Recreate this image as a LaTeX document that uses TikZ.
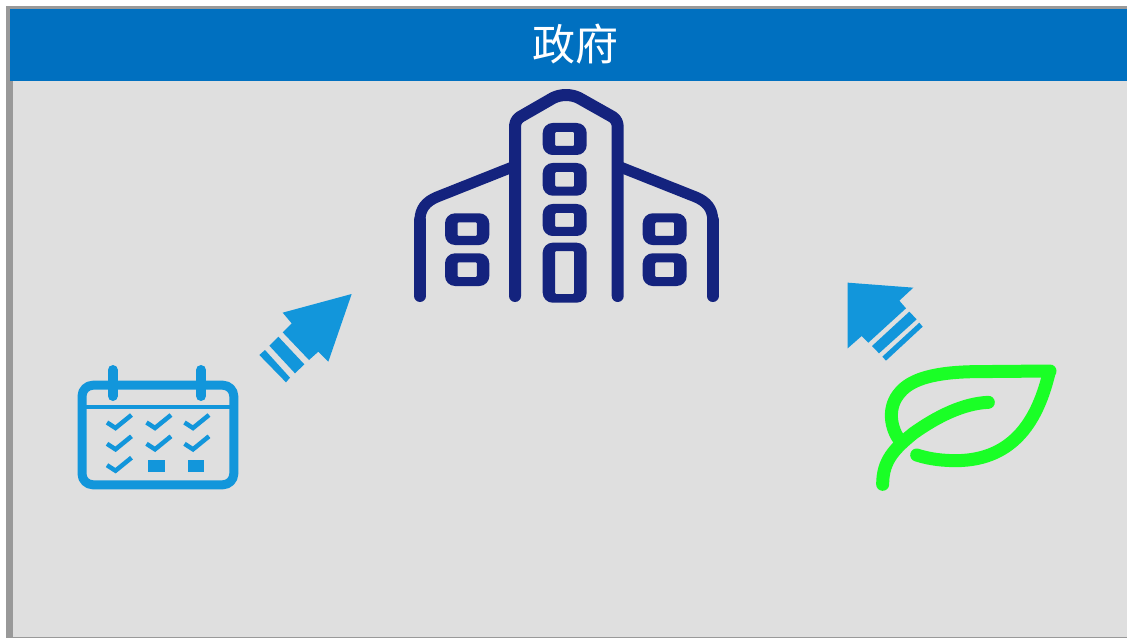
\documentclass[tikz,border=0pt]{standalone}
\usepackage{fontspec}
\newfontfamily\cjk{Noto Sans CJK SC}
\definecolor{framegray}{HTML}{999999}
\definecolor{panelgray}{HTML}{DFDFDF}
\definecolor{headblue}{HTML}{0070C0}
\definecolor{navy}{HTML}{14237E}
\definecolor{iconblue}{HTML}{1296DB}
\definecolor{leafgreen}{HTML}{1AFF26}
\newcommand{\bldwin}[4]{% outer x0,y0,x1,y1; hole inset 12.5 / 9
  \fill[navy,even odd rule]
    [rounded corners=10pt] (#1,#2) rectangle (#3,#4)
    [rounded corners=1pt] ({#1+12.5},{#2+9}) rectangle ({#3-12.5},{#4-9});}
\tikzset{
  bld/.style={draw=navy,line width=12pt,line cap=round,line join=round},
  cal/.style={draw=iconblue,line cap=round,line join=round},
  chk/.style={cal,line width=4.5pt,line cap=butt,line join=miter},
  leaf/.style={draw=leafgreen,line width=13pt,line cap=round,line join=round},
  zoomA/.style={shift={(60,280)},x=0.33333pt,y=-0.33333pt},
  zoomB/.style={shift={(830,270)},x=0.33333pt,y=-0.33333pt}
}
\begin{document}
\begin{tikzpicture}[x=1pt,y=-1pt]
\useasboundingbox (0,0) rectangle (1127,639);
\fill[white] (0,0) rectangle (1127,639);
\fill[framegray] (6,6) rectangle (1127,638);
\fill[panelgray] (13,9) rectangle (1127,637);
\fill[headblue] (10,9) rectangle (1127,81);
\node[text=white,font=\cjk\fontsize{43}{47}\selectfont,inner sep=0pt] (title) at (575,44.5) {政府};

% building
\draw[bld] (515,296) -- (515,128) .. controls (515,123) and (516,120) .. (520,117)
  -- (553,98) .. controls (561,94) and (571,94) .. (579,98)
  -- (612.7,117) .. controls (616.7,120) and (617.7,123) .. (617.7,128) -- (617.7,296);
\draw[bld,line width=11pt,line cap=butt] (515,166) -- (437,197) .. controls (426,201.5) and (420,209) .. (420,220);
\draw[bld] (420,220) -- (420,296);
\draw[bld,line width=11pt,line cap=butt] (617.7,166) -- (695.7,197) .. controls (706.7,201.5) and (712.7,209) .. (712.7,220);
\draw[bld] (712.7,220) -- (712.7,296);
\bldwin{542.7}{123}{586.7}{155}
\bldwin{542.7}{163}{586.7}{195.7}
\bldwin{542.7}{204}{586.7}{236}
\fill[navy,even odd rule] [rounded corners=10pt] (542.7,242.7) rectangle (586.7,302.7)
  [rounded corners=1pt] (555.2,251) rectangle (574.2,294);
\bldwin{445}{213.3}{489.3}{245}
\bldwin{445}{253.3}{489.3}{286}
\bldwin{642.7}{213.3}{686.7}{245}
\bldwin{642.7}{253.3}{686.7}{286}

% calendar
\draw[cal,line width=9pt,rounded corners=11pt] (82,385.2) rectangle (233.8,484.8);
\draw[cal,line width=4pt,line cap=butt] (82,407) -- (234,407);
\draw[cal,line width=10pt] (112.7,370) -- (112.7,396);
\draw[cal,line width=10pt] (201,370) -- (201,396);
\foreach \dx/\dy in {0/0,39.5/0,77.5/0,0/21.3,39.5/21.3,77.5/21.3,0/42.7}
  \draw[chk] (107+\dx,422.5+\dy) -- (115.5+\dx,428+\dy) -- (131.5+\dx,415+\dy);
\fill[iconblue] (148.3,460) rectangle (164.7,471.7);
\fill[iconblue] (188.3,460) rectangle (204.3,471.7);

% left arrow
\begin{scope}[zoomA]
\fill[iconblue] (875,42) -- (668,98) -- (695,130) -- (668,157) -- (747,240) -- (775,215) -- (805,245) -- cycle;
\fill[iconblue] (655,170) -- (733,253) -- (705,280) -- (628,197) -- cycle;
\fill[iconblue] (615,210) -- (690,293) -- (678,307) -- (598,225) -- cycle;
\end{scope}

% right arrow
\begin{scope}[zoomB]
\fill[iconblue] (53,38) -- (250,53) -- (208,92) -- (228,115) -- (115,218) -- (95,198) -- (53,235) -- cycle;
\fill[iconblue] (238,125) -- (260,148) -- (147,250) -- (126,228) -- cycle;
\fill[iconblue] (268,158) -- (278,170) -- (168,272) -- (157,260) -- cycle;
% leaf
\draw[leaf] (212,515) .. controls (180,475) and (170,410) .. (212,365)
  .. controls (247,325) and (320,307) .. (430,305) -- (660,303);
\draw[leaf] (658,305) .. controls (625,445) and (555,570) .. (380,572)
  .. controls (340,572) and (300,568) .. (260,555);
\draw[leaf] (158,643) .. controls (158,570) and (195,535) .. (250,490)
  .. controls (320,440) and (400,400) .. (475,397);
\end{scope}
\end{tikzpicture}
\end{document}
